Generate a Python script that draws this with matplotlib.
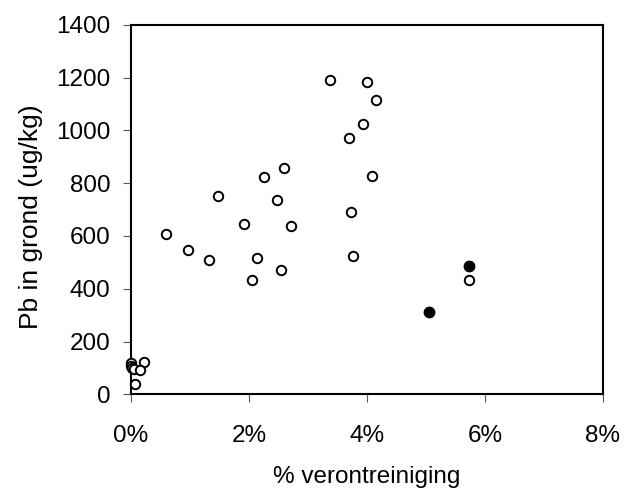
import matplotlib
matplotlib.use("Agg")
import matplotlib.pyplot as plt
from matplotlib.ticker import FuncFormatter

plt.rcParams["font.family"] = ["Liberation Sans", "DejaVu Sans"]

# % verontreiniging (fraction) and Pb (ug/kg), open markers
x_open = [0.0000, 0.0000, 0.0002, 0.0005, 0.0022, 0.0016, 0.0006,
          0.0059, 0.0096, 0.0133, 0.0147, 0.0191, 0.0205, 0.0214,
          0.0225, 0.0248, 0.0255, 0.0259, 0.0272, 0.0337, 0.0370,
          0.0373, 0.0377, 0.0394, 0.0400, 0.0408, 0.0415, 0.0573]
y_open = [120, 108, 100, 95, 123, 92, 40,
          608, 548, 510, 752, 646, 434, 517,
          822, 737, 472, 858, 639, 1192, 972,
          692, 525, 1025, 1184, 828, 1116, 434]

# filled markers
x_filled = [0.0506, 0.0573]
y_filled = [313, 487]

fig = plt.figure(figsize=(6.24, 4.95), dpi=100)
ax = fig.add_axes([0.21, 0.2034, 0.756, 0.7466])

ax.plot(x_open, y_open, "o", markersize=6.8, markerfacecolor="white",
        markeredgecolor="black", markeredgewidth=1.4, linestyle="none",
        clip_on=False, zorder=3)
ax.plot(x_filled, y_filled, "o", markersize=7.5, markerfacecolor="black",
        markeredgecolor="black", markeredgewidth=1.0, linestyle="none",
        clip_on=False, zorder=3)

ax.set_xlim(0, 0.08)
ax.set_ylim(0, 1400)
ax.set_xticks([0, 0.02, 0.04, 0.06, 0.08])
ax.set_yticks(range(0, 1401, 200))
ax.xaxis.set_major_formatter(FuncFormatter(lambda v, p: f"{v * 100:.0f}%"))

for s in ax.spines.values():
    s.set_linewidth(1.5)
    s.set_color("black")

ax.tick_params(axis="x", direction="out", length=5.8, width=0.8,
               labelsize=17.5, pad=16, color="#555555")
ax.tick_params(axis="y", direction="out", length=5.8, width=0.8,
               labelsize=17.5, pad=9, color="#555555")

ax.set_xlabel("% verontreiniging", fontsize=17.5, labelpad=14)
ax.set_ylabel("Pb in grond (ug/kg)", fontsize=19)
ax.yaxis.set_label_coords(-0.187, 0.48)

fig.savefig("out.png", dpi=100, facecolor="white")
